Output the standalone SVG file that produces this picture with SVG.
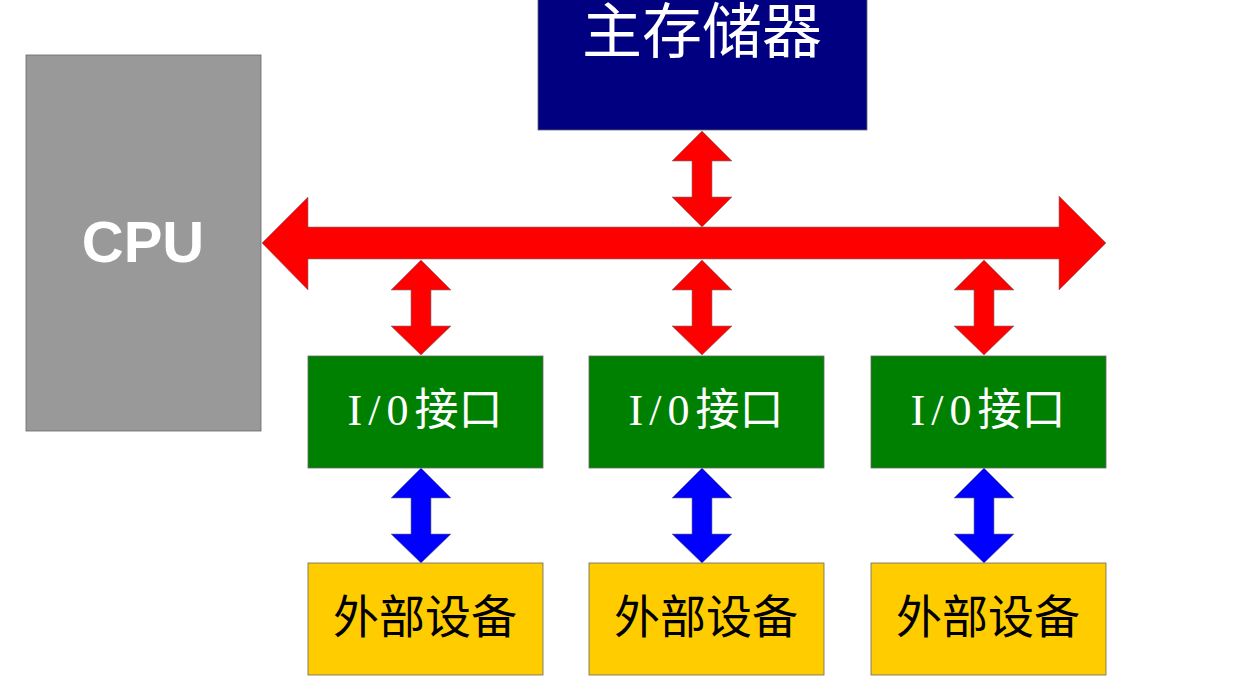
<svg xmlns="http://www.w3.org/2000/svg" width="1254" height="699" viewBox="0 0 1254 699">
<style>
.box{stroke:#666;stroke-width:0.8}
.red{fill:#FF0000;stroke:#777;stroke-width:0.6}
.blue{fill:#0000FF;stroke:#777;stroke-width:0.6}
.cjk{font-family:"Liberation Serif","Noto Sans CJK SC",serif;text-anchor:middle;dominant-baseline:central}
.lat{letter-spacing:6px}
</style>
<defs>
<path id="va" d="M0,0 L30,30 L10,30 L10,66 L30,66 L0,96 L-30,66 L-10,66 L-10,30 L-30,30 Z"/>
<path id="vb" d="M0,0 L30,30 L10,30 L10,66 L30,66 L0,95 L-30,66 L-10,66 L-10,30 L-30,30 Z"/>
</defs>
<rect width="1254" height="699" fill="#fff"/>
<g id="connectors">
<path class="red" d="M262,243 L308,197 L308,227 L1059,227 L1059,196 L1106,243 L1059,290 L1059,259 L308,259 L308,290 Z"/>
<use href="#va" class="red" transform="translate(702,131)"/>
<use href="#vb" class="red" transform="translate(421,260)"/>
<use href="#vb" class="red" transform="translate(702,260)"/>
<use href="#vb" class="red" transform="translate(984,260)"/>
<use href="#vb" class="blue" transform="translate(421,468)"/>
<use href="#vb" class="blue" transform="translate(702,468)"/>
<use href="#vb" class="blue" transform="translate(984,468)"/>
</g>
<g id="cpu">
<rect class="box" x="26" y="55" width="235" height="376" fill="#999999"/>
<text x="143" y="241" fill="#fff" font-family="Liberation Sans,Arial,sans-serif" font-weight="bold" font-size="58" text-anchor="middle" dominant-baseline="central">CPU</text>
</g>
<g id="memory">
<rect class="box" x="538" y="-1" width="329" height="131" fill="#000080"/>
<text class="cjk" x="702" y="33" fill="#fff" font-size="60">主存储器</text>
</g>
<g id="io1">
<rect class="box" x="308" y="356" width="235" height="112" fill="#008000"/>
<text class="cjk" x="425" y="410" fill="#fff" font-size="44"><tspan class="lat">I/0</tspan>接口</text>
</g>
<g id="io2">
<rect class="box" x="589" y="356" width="235" height="112" fill="#008000"/>
<text class="cjk" x="706" y="410" fill="#fff" font-size="44"><tspan class="lat">I/0</tspan>接口</text>
</g>
<g id="io3">
<rect class="box" x="871" y="356" width="235" height="112" fill="#008000"/>
<text class="cjk" x="988" y="410" fill="#fff" font-size="44"><tspan class="lat">I/0</tspan>接口</text>
</g>
<g id="dev1">
<rect class="box" x="308" y="563" width="235" height="112" fill="#FFCC00"/>
<text class="cjk" x="425" y="617" fill="#000" font-size="46">外部设备</text>
</g>
<g id="dev2">
<rect class="box" x="589" y="563" width="235" height="112" fill="#FFCC00"/>
<text class="cjk" x="706" y="617" fill="#000" font-size="46">外部设备</text>
</g>
<g id="dev3">
<rect class="box" x="871" y="563" width="235" height="112" fill="#FFCC00"/>
<text class="cjk" x="988" y="617" fill="#000" font-size="46">外部设备</text>
</g>
</svg>
